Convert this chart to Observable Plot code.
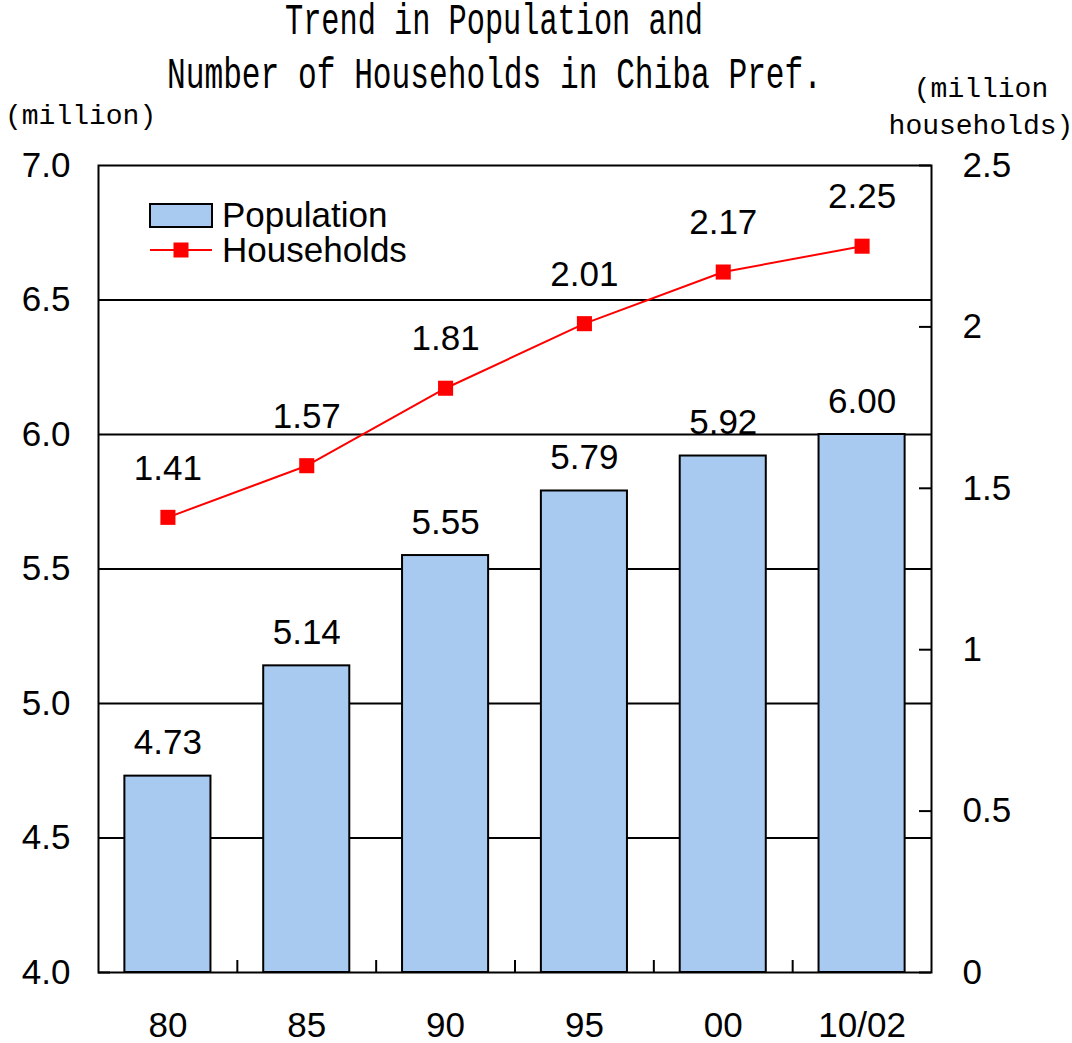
<!DOCTYPE html>
<html>
<head>
<meta charset="utf-8">
<script src="https://cdn.jsdelivr.net/npm/d3@7"></script>
<script src="https://cdn.jsdelivr.net/npm/@observablehq/plot@0.6"></script>
<style>
  html, body { margin: 0; padding: 0; background: #fff; }
  #chart svg { display: block; }
</style>
</head>
<body>
<div id="chart"></div>
<script>
// Census years (last one is the Oct 2002 estimate)
const years = ["80", "85", "90", "95", "00", "10/02"];
// Population, million
const population = [4.73, 5.14, 5.55, 5.79, 5.92, 6.00];
// Households, million households
const households = [1.41, 1.57, 1.81, 2.01, 2.17, 2.25];
// Axis ticks
const leftTicks = [4.0, 4.5, 5.0, 5.5, 6.0, 6.5, 7.0];
const rightTicks = [0, 0.5, 1, 1.5, 2, 2.5];
const gridTicks = [4.5, 5.0, 5.5, 6.0, 6.5];

// Left axis spans 4.0–7.0 million people, right axis 0–2.5 million households;
// households are mapped onto the left scale so both share one y scale.
const yMin = 4, yMax = 7, hMax = 2.5;
const toLeft = v => yMin + v * (yMax - yMin) / hMax;
const fromLeft = y => (y - yMin) * hMax / (yMax - yMin);

const data = years.map((year, i) => ({year, pop: population[i], hh: households[i]}));

const BLUE = "#a8caf0";
const RED = "#ff0000";
const FONT = "Liberation Sans, Arial, sans-serif";
const MONO = "Liberation Mono, Courier New, monospace";
const step = (931 - 98) / years.length;

const chart = Plot.plot({
  width: 1072,
  height: 1043,
  marginLeft: 98,
  marginRight: 141,
  marginTop: 165,
  marginBottom: 71,
  style: {fontFamily: FONT, fontSize: "35px", color: "black", background: "white", overflow: "visible"},
  x: {type: "band", domain: years, paddingInner: 0.38, paddingOuter: 0.19, round: false},
  y: {domain: [yMin, yMax]},
  marks: [
    Plot.ruleY(gridTicks, {stroke: "black", strokeWidth: 2}),
    Plot.barY(data, {x: "year", y1: yMin, y2: "pop", fill: BLUE, stroke: "black", strokeWidth: 2}),
    Plot.text(data, {x: "year", y: "pop", text: d => d.pop.toFixed(2), dy: -33, fontSize: 35, fill: "black"}),
    Plot.line(data, {x: "year", y: d => toLeft(d.hh), stroke: RED, strokeWidth: 2}),
    Plot.dot(data, {x: "year", y: d => toLeft(d.hh), symbol: "square", r: 8.5, fill: RED, stroke: "none"}),
    Plot.text(data, {x: "year", y: d => toLeft(d.hh), text: d => d.hh.toFixed(2), dy: -49, fontSize: 35, fill: "black"}),
    // inward tick marks
    Plot.ruleY(rightTicks.map(toLeft), {stroke: "black", strokeWidth: 2, insetLeft: 821}),
    Plot.ruleY([yMin], {stroke: "black", strokeWidth: 2, insetRight: 821}),
    Plot.ruleX(years.slice(0, -1), {x: d => d, dx: step / 2, stroke: "black", strokeWidth: 2, insetTop: 795}),
    Plot.frame({stroke: "black", strokeWidth: 2}),
    Plot.axisY(leftTicks, {anchor: "left", tickSize: 0, tickPadding: 28, fontSize: 35, tickFormat: d3.format(".1f"), label: null}),
    Plot.axisY(rightTicks.map(toLeft), {anchor: "right", tickSize: 0, tickPadding: 31, fontSize: 35, tickFormat: d => String(+fromLeft(d).toFixed(2)), label: null}),
    Plot.axisX({tickSize: 0, tickPadding: 40, fontSize: 35, label: null})
  ]
});

document.getElementById("chart").appendChild(chart);

// Title, unit labels and legend
const svg = d3.select(chart);
const titleLines = [
  {text: "Trend in Population and", x: 494, y: 34, len: 418},
  {text: "Number of Households in Chiba Pref.", x: 494.5, y: 88, len: 655}
];
titleLines.forEach(t => {
  svg.append("text")
    .attr("x", t.x).attr("y", t.y)
    .attr("text-anchor", "middle")
    .attr("textLength", t.len)
    .attr("lengthAdjust", "spacingAndGlyphs")
    .style("font-family", MONO)
    .style("font-size", "44px")
    .attr("fill", "black")
    .text(t.text);
});

svg.append("text").attr("x", 5).attr("y", 124).attr("text-anchor", "start")
  .style("font-family", MONO).style("font-size", "28px").attr("fill", "black")
  .text("(million)");
svg.append("text").attr("x", 981).attr("y", 97).attr("text-anchor", "middle")
  .style("font-family", MONO).style("font-size", "28px").attr("fill", "black")
  .text("(million");
svg.append("text").attr("x", 981).attr("y", 134).attr("text-anchor", "middle")
  .style("font-family", MONO).style("font-size", "28px").attr("fill", "black")
  .text("households)");

const legend = svg.append("g");
legend.append("rect").attr("x", 150).attr("y", 204).attr("width", 62).attr("height", 23)
  .attr("fill", BLUE).attr("stroke", "black").attr("stroke-width", 2);
legend.append("text").attr("x", 222).attr("y", 215).attr("dy", "0.35em").attr("text-anchor", "start")
  .style("font-family", FONT).style("font-size", "35px").attr("fill", "black")
  .text("Population");
legend.append("line").attr("x1", 150).attr("x2", 212).attr("y1", 250).attr("y2", 250)
  .attr("stroke", RED).attr("stroke-width", 2);
legend.append("rect").attr("x", 173.5).attr("y", 242.5).attr("width", 15).attr("height", 15)
  .attr("fill", RED);
legend.append("text").attr("x", 222).attr("y", 250).attr("dy", "0.35em").attr("text-anchor", "start")
  .style("font-family", FONT).style("font-size", "35px").attr("fill", "black")
  .text("Households");
</script>
</body>
</html>
